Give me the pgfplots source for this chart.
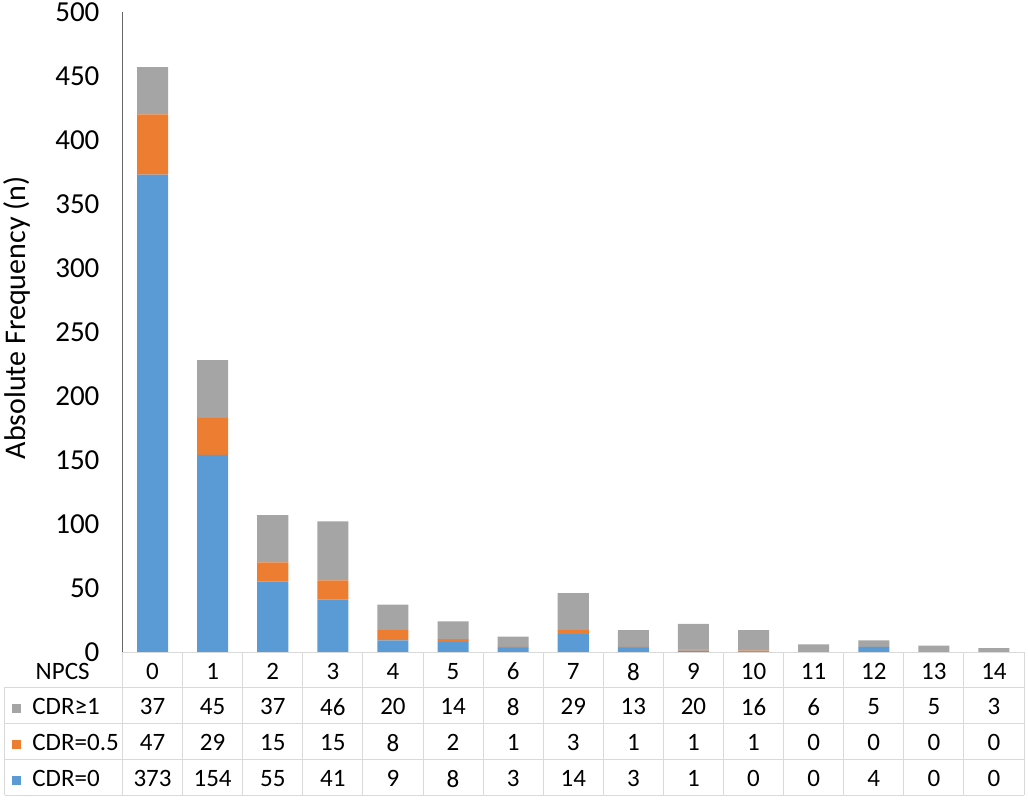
\documentclass[border=0pt]{standalone}
\usepackage{fontspec}
\setmainfont{Carlito}
\usepackage{pgfplots}
\usepackage{pgfplotstable}
\pgfplotsset{compat=1.18}

\definecolor{cdrblue}{HTML}{5B9BD5}
\definecolor{cdrorange}{HTML}{ED7D31}
\definecolor{cdrgray}{HTML}{A5A5A5}
\definecolor{tabline}{HTML}{D9D9D9}
\definecolor{axgray}{HTML}{666666}

% NPCS score, CDR>=1, CDR=0.5, CDR=0
\pgfplotstableread{
npcs ge1 half zero
0  37 47 373
1  45 29 154
2  37 15 55
3  46 15 41
4  20 8  9
5  14 2  8
6  8  1  3
7  29 3  14
8  13 1  3
9  20 1  1
10 16 1  0
11 6  0  0
12 5  0  4
13 5  0  0
14 3  0  0
}\datatable

\begin{document}
\begin{tikzpicture}
\begin{axis}[
  at={(0,0)}, anchor=south west,
  scale only axis,
  width=450.75pt, height=320pt,
  ybar stacked,
  bar width=0.516,
  xmin=-0.5, xmax=14.5,
  ymin=0, ymax=500,
  ytick={0,50,...,500},
  xtick=data,
  axis x line*=bottom,
  axis y line*=left,
  x axis line style={draw=none},
  y axis line style={draw=axgray, line width=0.75pt},
  major tick length=0pt,
  /pgf/number format/assume math mode=true,
  yticklabel style={font=\fontsize{14.5}{16}\selectfont, xshift=-8pt},
  xticklabel style={font=\fontsize{12.5}{14}\selectfont, anchor=center, yshift=-9.8pt},
  ylabel={Absolute Frequency (n)},
  ylabel style={font=\fontsize{15}{17}\selectfont, at={(axis description cs:-0.117,0.522)}, anchor=center},
  clip=false,
]
\addplot[fill=cdrblue, draw=none] table[x=npcs, y=zero]{\datatable};
\addplot[fill=cdrorange, draw=none] table[x=npcs, y=half]{\datatable};
\addplot[fill=cdrgray, draw=none] table[x=npcs, y=ge1]{\datatable};
\end{axis}

% data table below the chart
\begin{scope}[line width=0.5pt, tabline]
  \draw (0,0) -- (450.75pt,0);
  \foreach \y in {-17.65pt,-35.65pt,-53.65pt,-71.5pt}
    \draw (-58.75pt,\y) -- (450.75pt,\y);
  \foreach \k in {0,...,15}
    \draw ({\k*30.05pt},0) -- ({\k*30.05pt},-71.5pt);
  \draw (-58.75pt,-17.65pt) -- (-58.75pt,-71.5pt);
\end{scope}

\tikzset{tabtext/.style={font=\fontsize{12.5}{14}\selectfont, anchor=center, inner sep=0pt}}
\node[tabtext, anchor=east] at (-16.25pt,-9.8pt) {NPCS};
\fill[cdrgray]   (-55.25pt,-30.4pt) rectangle ++(4.5pt,4.5pt);
\fill[cdrorange] (-55.25pt,-48.4pt) rectangle ++(4.5pt,4.5pt);
\fill[cdrblue]   (-55.25pt,-66.35pt) rectangle ++(4.5pt,4.5pt);
\node[tabtext, anchor=west] at (-45.25pt,-27.4pt) {CDR≥1};
\node[tabtext, anchor=west] at (-45.25pt,-45.4pt) {CDR=0.5};
\node[tabtext, anchor=west] at (-45.25pt,-63.35pt) {CDR=0};

\foreach \i in {0,...,14}{
  \pgfplotstablegetelem{\i}{ge1}\of\datatable
  \node[tabtext] at ({(\i+0.5)*30.05pt},-27.4pt) {\pgfplotsretval};
  \pgfplotstablegetelem{\i}{half}\of\datatable
  \node[tabtext] at ({(\i+0.5)*30.05pt},-45.4pt) {\pgfplotsretval};
  \pgfplotstablegetelem{\i}{zero}\of\datatable
  \node[tabtext] at ({(\i+0.5)*30.05pt},-63.35pt) {\pgfplotsretval};
}

\pgfresetboundingbox
\useasboundingbox (-61.25pt,-74pt) rectangle (452.75pt,326pt);
\end{tikzpicture}
\end{document}
